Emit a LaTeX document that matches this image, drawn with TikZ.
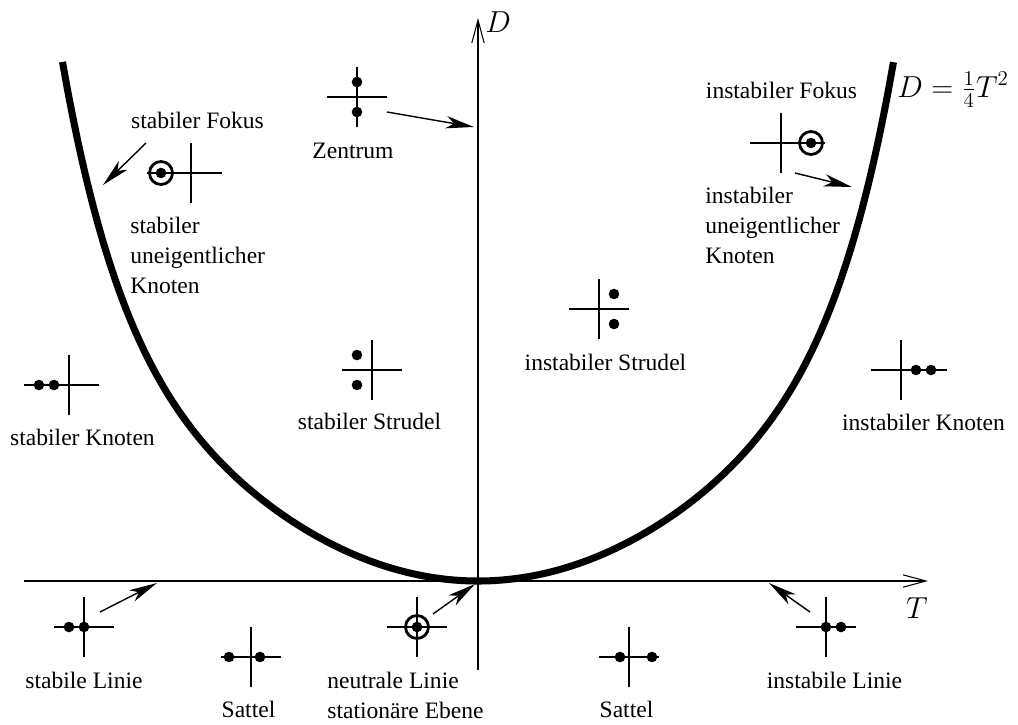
\documentclass[tikz,border=0pt]{standalone}
\usepackage[no-math]{fontspec}
\setmainfont{Liberation Serif}
\usepackage{amsmath}
\usepackage{tikz}
\usetikzlibrary{arrows.meta,positioning}

\begin{document}
\begin{tikzpicture}
    \tikzset{
      achse/.style={line width=0.6pt,-{Straight Barb[length=13pt,width=7pt]}},
      kreuz/.style={line width=0.6pt},
      ring/.style={line width=1.6pt},
      zeiger/.style={line width=0.8pt,-{Stealth[length=16pt,width=7pt,inset=4.5pt]}},
      lbl/.style={font=\fontsize{13.4}{17.1}\selectfont,inner sep=0pt},
      mlbl/.style={font=\fontsize{17.28}{20}\selectfont,inner sep=0pt}
    }
    \useasboundingbox (-9.56,-2.86) rectangle (10.8,11.62);
    % Achsen
    \coordinate (tl) at (-9.08,0);
    \coordinate (tr) at (9.0,0);
    \coordinate (db) at (0,-1.78);
    \coordinate (dt) at (0,11.26);
    \draw[achse] (tl) -- (tr);
    \draw[achse] (db) -- (dt);
    \node[mlbl,anchor=base] (tlab) at (8.78,-0.74) {$T$};
    \node[mlbl,anchor=base west] (dlab) at (0.14,10.98) {$D$};
    % Parabel D = T^2/4
    \draw[line width=4pt] plot[domain=-8.31:8.31,samples=160,smooth]
      (\x,{0.086*\x*\x+4.4*((\x*\x)/68.89)^4});
    \node[mlbl,anchor=base west] (parab) at (8.38,9.68) {$D=\frac{1}{4}T^2$};
    % Kreuze
    \foreach \x/\y/\l/\r in {-2.42/9.68/-0.6/0.6, -5.74/8.16/-0.88/0.62, 6.06/8.76/-0.62/0.88,
        -2.12/4.22/-0.6/0.6, 2.42/5.44/-0.6/0.6, -8.18/3.92/-0.9/0.6, 8.46/4.22/-0.6/0.92,
        -7.88/-0.92/-0.6/0.6, -4.54/-1.52/-0.6/0.6, -1.22/-0.92/-0.6/0.6,
        3.02/-1.52/-0.6/0.6, 6.96/-0.92/-0.6/0.6}{
      \draw[kreuz] ({\x+\l},\y) -- ({\x+\r},\y);
      \draw[kreuz] (\x,{\y-0.6}) -- (\x,{\y+0.6});
    }
    % Eigenwerte
    \foreach \p in {(-2.42,9.98), (-2.42,9.38), (-2.42,4.52), (-2.42,3.92), (2.72,5.74), (2.72,5.14),
        (-8.48,3.92), (-8.78,3.92), (8.76,4.22), (9.06,4.22), (-8.18,-0.92), (-7.88,-0.92),
        (-4.98,-1.52), (-4.36,-1.52), (2.84,-1.52), (3.48,-1.52), (6.96,-0.92), (7.26,-0.92)}{
      \fill \p circle (0.106);
    }
    \foreach \p in {(-6.34,8.16), (6.66,8.76), (-1.22,-0.92)}{
      \fill \p circle (0.106);
      \draw[ring] \p circle (0.23);
    }
    % Beschriftungen
    \node[lbl,anchor=base] (zentrum) at (-2.5,8.46) {Zentrum};
    \node[lbl,anchor=base] (sfokus) at (-5.61,9.06) {stabiler Fokus};
    \node[lbl,anchor=base] (ifokus) at (6.07,9.66) {instabiler Fokus};
    \node[lbl,anchor=north west,align=left] (sunk) at (-6.96,7.28) {stabiler\\uneigentlicher\\Knoten};
    \node[lbl,anchor=north west,align=left] (iunk) at (4.54,7.88) {instabiler\\uneigentlicher\\Knoten};
    \node[lbl,anchor=base] (sknoten) at (-7.91,2.72) {stabiler Knoten};
    \node[lbl,anchor=base] (sstrudel) at (-2.17,3.04) {stabiler Strudel};
    \node[lbl,anchor=base] (istrudel) at (2.55,4.22) {instabiler Strudel};
    \node[lbl,anchor=base] (iknoten) at (8.91,3.02) {instabiler Knoten};
    \node[lbl,anchor=base] (slinie) at (-7.88,-2.14) {stabile Linie};
    \node[lbl,anchor=base] (sattell) at (-4.59,-2.72) {Sattel};
    \node[lbl,anchor=north west,align=left] (neutral) at (-3.02,-1.82) {neutrale Linie\\stationäre Ebene};
    \node[lbl,anchor=base] (sattelr) at (2.97,-2.72) {Sattel};
    \node[lbl,anchor=base] (ilinie) at (7.13,-2.14) {instabile Linie};
    % Zeiger
    \coordinate (a1) at (-6.64,8.76);  \coordinate (b1) at (-7.5,7.92);
    \coordinate (a2) at (-1.82,9.38);  \coordinate (b2) at (-0.08,9.08);
    \coordinate (a3) at (6.34,8.16);   \coordinate (b3) at (7.48,7.88);
    \coordinate (a4) at (-7.56,-0.62); \coordinate (b4) at (-6.42,-0.04);
    \coordinate (a5) at (-0.9,-0.66);  \coordinate (b5) at (-0.06,-0.06);
    \coordinate (a6) at (6.64,-0.62);  \coordinate (b6) at (5.82,-0.04);
    \foreach \i in {1,...,6}{ \draw[zeiger] (a\i) -- (b\i); }
\end{tikzpicture}
\end{document}
